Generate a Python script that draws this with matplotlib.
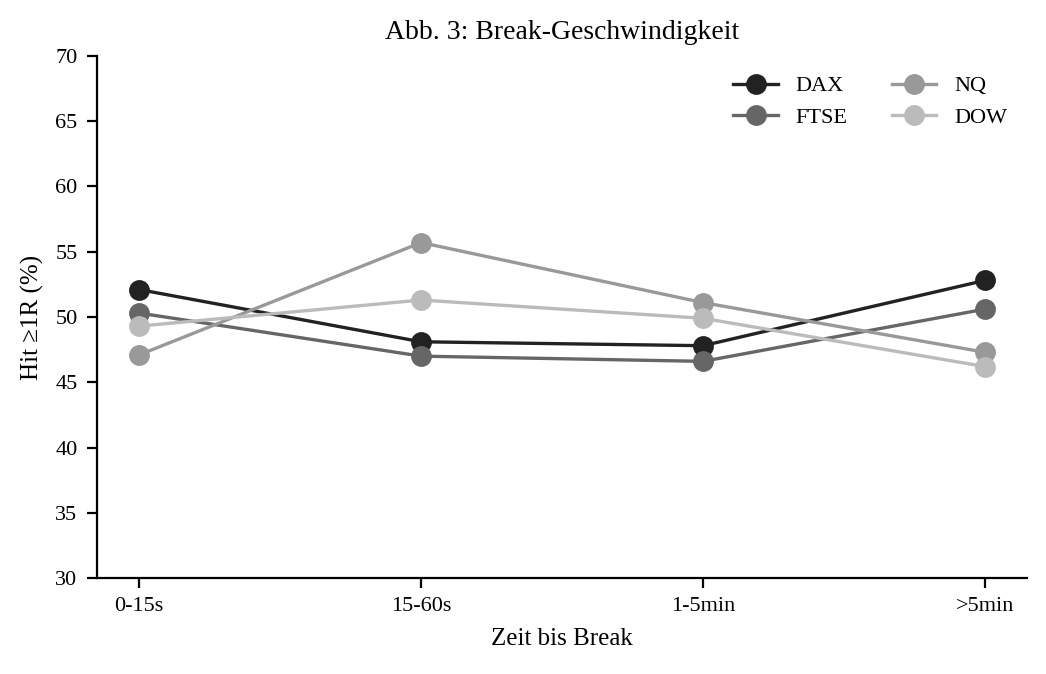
import numpy as np
import matplotlib
matplotlib.use("Agg")
import matplotlib.pyplot as plt

plt.rcParams['font.family'] = ['Liberation Serif', 'DejaVu Serif']

categories = ['0-15s', '15-60s', '1-5min', '>5min']
dax = [52.1, 48.1, 47.8, 52.8]
ftse = [50.3, 47.0, 46.6, 50.6]
nq = [47.1, 55.7, 51.1, 47.3]
dow = [49.3, 51.3, 49.9, 46.2]

series = {'DAX': dax, 'FTSE': ftse, 'NQ': nq, 'DOW': dow}
colors = {'DAX': '#222222', 'FTSE': '#666666', 'NQ': '#999999', 'DOW': '#bbbbbb'}

fig, ax = plt.subplots(figsize=(5.23, 3.37), dpi=200)
fig.subplots_adjust(left=0.0927, right=0.982, top=0.917, bottom=0.1424)

x = np.arange(len(categories))
for name, vals in series.items():
    ax.plot(x, vals, marker='o', markersize=6.5, linewidth=1.2,
            color=colors[name], label=name)

ax.set_xticks(x)
ax.set_xticklabels(categories, fontsize=8)
ax.set_xlim(-0.15, 3.15)
ax.set_ylim(30, 70)
ax.set_yticks(range(30, 71, 5))
ax.tick_params(axis='y', labelsize=8)
ax.set_xlabel('Zeit bis Break', fontsize=9)
ax.set_ylabel('Hit \u22651R (%)', fontsize=9)
ax.set_title('Abb. 3: Break-Geschwindigkeit', fontsize=10)
ax.spines['top'].set_visible(False)
ax.spines['right'].set_visible(False)
ax.legend(ncol=2, frameon=False, fontsize=8, loc='upper right')

fig.savefig('out.png', dpi=200)
